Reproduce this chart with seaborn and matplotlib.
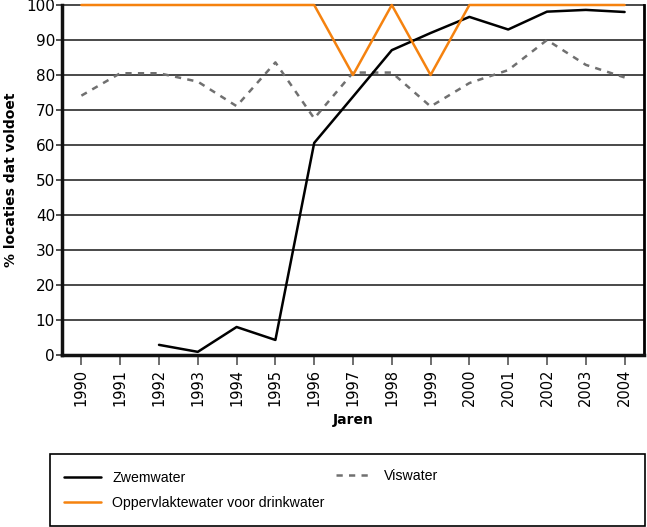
import numpy as np
import pandas as pd
import matplotlib.pyplot as plt
import seaborn as sns
from matplotlib.patches import Rectangle

# Data
jaren = list(range(1990, 2005))
zwemwater = [np.nan, np.nan, 2.9, 0.9, 8.0, 4.3, 60.6, 73.8, 87.1, 92.0, 96.6, 93.0, 98.1, 98.6, 98.0]
drinkwater = [100, 100, 100, 100, 100, 100, 100, 80, 100, 80, 100, 100, 100, 100, 100]
viswater = [74.1, 80.5, 80.5, 78.1, 71.1, 83.6, 67.6, 80.7, 80.7, 71.0, 77.7, 81.4, 90.0, 82.9, 79.3]

df = pd.DataFrame({'jaar': jaren, 'Zwemwater': zwemwater,
                   'Oppervlaktewater voor drinkwater': drinkwater, 'Viswater': viswater})

sns.set_style('white')
plt.rcParams['font.family'] = ['DejaVu Sans']
for key in ['text.color', 'axes.labelcolor', 'xtick.color', 'ytick.color']:
    plt.rcParams[key] = 'black'

W, H = 647, 527
fig = plt.figure(figsize=(W / 100, H / 100), dpi=100)
ax = fig.add_axes([62 / W, (H - 355) / H, 582 / W, 350 / H])

# gridlines behind the lines
for y in range(0, 101, 10):
    ax.axhline(y, color='#2a2a2a', lw=1.2, zorder=0, clip_on=False)

sns.lineplot(data=df, x='jaar', y='Zwemwater', color='black', lw=1.8, ax=ax, label='Zwemwater', zorder=3)
sns.lineplot(data=df, x='jaar', y='Oppervlaktewater voor drinkwater', color='#f5820f', lw=1.8, ax=ax,
             label='Oppervlaktewater voor drinkwater', zorder=4, clip_on=False)
sns.lineplot(data=df, x='jaar', y='Viswater', color='#707070', lw=1.8, ax=ax, label='Viswater',
             zorder=2, linestyle=(0, (2.5, 2.5)))

ax.set_xlim(1989.5, 2004.5)
ax.set_ylim(0, 100)
ax.set_yticks(range(0, 101, 10))
ax.set_xticks(jaren)
ax.set_xticklabels([str(j) for j in jaren], rotation=90, fontsize=10.5)
ax.tick_params(axis='y', labelsize=11, length=4, width=1.2, color='#333333', pad=1, left=True)
ax.tick_params(axis='x', length=7, width=1.2, color='#555555', direction='out', bottom=True, pad=3)

for side in ['left', 'bottom']:
    ax.spines[side].set_linewidth(2.5)
    ax.spines[side].set_color('#111111')
ax.spines['right'].set_linewidth(2)
ax.spines['right'].set_color('black')
ax.spines['top'].set_visible(False)

ax.set_xlabel('Jaren', fontsize=10, fontweight='bold', labelpad=5)
ax.set_ylabel('% locaties dat voldoet', fontsize=10, fontweight='bold', labelpad=6)

handles, labels = ax.get_legend_handles_labels()
ax.get_legend().remove()

# legend frame
fig.add_artist(Rectangle((50 / W, 1 / H), 595 / W, 72 / H, transform=fig.transFigure,
                         fill=False, edgecolor='black', lw=1.2))
leg_kw = dict(loc='upper left', frameon=False, borderpad=0, borderaxespad=0,
              prop={'family': ['Liberation Sans', 'DejaVu Sans'], 'size': 10.2},
              handlelength=2.6, handletextpad=0.8, labelspacing=0.75)
fig.legend(handles[:2], labels[:2], bbox_to_anchor=(64 / W, (H - 471) / H), **leg_kw)
fig.legend(handles[2:], labels[2:], bbox_to_anchor=(336 / W, (H - 469) / H), **leg_kw)

fig.savefig('out.png', dpi=100)
